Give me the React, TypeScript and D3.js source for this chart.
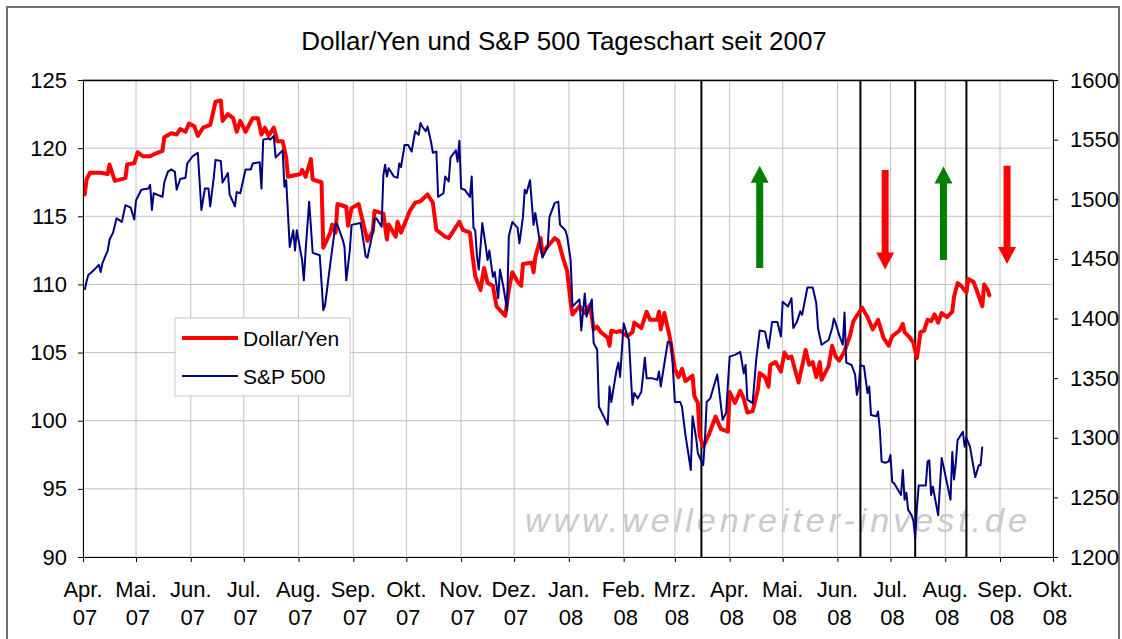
import * as d3 from 'd3';
import {useEffect, useRef} from "react";
import * as React from "react";

const chartTitle = "Dollar/Yen und S&P 500 Tageschart seit 2007";
const monthNames = ["Apr.", "Mai.", "Jun.", "Jul.", "Aug.", "Sep.", "Okt.", "Nov.", "Dez.", "Jan.", "Feb.", "Mrz.", "Apr.", "Mai.", "Jun.", "Jul.", "Aug.", "Sep.", "Okt."];
const yearNames = ["07", "07", "07", "07", "07", "07", "07", "07", "07", "08", "08", "08", "08", "08", "08", "08", "08", "08", "08"];
const yenTicks = [90, 95, 100, 105, 110, 115, 120, 125];
const spxTicks = [1200, 1250, 1300, 1350, 1400, 1450, 1500, 1550, 1600];
const eventDates = ["2008-03-16", "2008-06-14", "2008-07-15", "2008-08-13"];
// date, from, to (Dollar/Yen scale)
const trendArrows: [string, number, number][] = [
    ["2008-04-18", 111.2, 118.7],
    ["2008-06-28", 118.4, 111.1],
    ["2008-07-31", 111.8, 118.65],
    ["2008-09-05", 118.7, 111.5],
];

const yenSeries: [string, number][] = [
    ["2007-04-02",116.6],["2007-04-03",117.7],["2007-04-05",118.2],["2007-04-11",118.2],["2007-04-15",118.1],["2007-04-16",118.8],["2007-04-19",117.6],["2007-04-25",117.8],["2007-04-26",118.8],["2007-04-30",118.9],
    ["2007-05-02",119.7],["2007-05-05",119.4],["2007-05-09",119.4],["2007-05-12",119.6],["2007-05-16",119.8],["2007-05-17",120.8],["2007-05-21",121.1],["2007-05-24",121.0],["2007-05-26",121.4],["2007-05-29",121.2],["2007-05-31",121.8],
    ["2007-06-03",121.6],["2007-06-05",120.9],["2007-06-08",121.5],["2007-06-12",121.7],["2007-06-15",123.4],["2007-06-18",123.5],["2007-06-19",122.0],["2007-06-22",122.5],["2007-06-25",122.2],["2007-06-27",121.2],["2007-06-29",122.0],
    ["2007-07-02",121.2],["2007-07-06",122.2],["2007-07-09",122.2],["2007-07-11",121.0],["2007-07-13",121.5],["2007-07-15",120.9],["2007-07-18",121.5],["2007-07-20",120.5],["2007-07-23",120.5],["2007-07-25",119.3],["2007-07-26",117.9],
    ["2007-08-02",118.1],["2007-08-03",118.4],["2007-08-05",117.9],["2007-08-08",119.2],["2007-08-09",117.7],["2007-08-14",117.5],["2007-08-15",112.7],["2007-08-19",113.8],["2007-08-20",114.4],["2007-08-22",113.8],["2007-08-23",115.9],["2007-08-28",115.7],["2007-08-29",114.3],["2007-08-31",115.6],
    ["2007-09-04",115.9],["2007-09-06",114.8],["2007-09-09",113.2],["2007-09-12",113.9],["2007-09-13",115.4],["2007-09-18",115.2],["2007-09-20",113.3],["2007-09-21",114.4],["2007-09-25",113.5],["2007-09-26",114.6],["2007-09-28",113.8],
    ["2007-10-03",115.4],["2007-10-06",116.0],["2007-10-09",116.1],["2007-10-13",116.6],["2007-10-16",116.0],["2007-10-18",114.0],["2007-10-23",113.5],["2007-10-25",113.4],["2007-10-27",113.8],["2007-10-31",114.6],
    ["2007-11-02",114.0],["2007-11-06",113.8],["2007-11-07",112.6],["2007-11-09",110.6],["2007-11-12",109.6],["2007-11-14",111.2],["2007-11-16",110.1],["2007-11-19",109.9],["2007-11-21",108.4],["2007-11-26",107.7],["2007-11-28",109.6],["2007-11-30",110.9],
    ["2007-12-03",110.2],["2007-12-05",109.9],["2007-12-06",111.5],["2007-12-11",111.6],["2007-12-12",110.9],["2007-12-13",112.0],["2007-12-16",113.4],["2007-12-17",112.3],["2007-12-20",112.8],["2007-12-24",113.4],["2007-12-26",113.2],["2007-12-29",111.8],["2007-12-31",111.0],
    ["2008-01-02",108.7],["2008-01-03",107.8],["2008-01-07",108.4],["2008-01-10",107.9],["2008-01-13",108.5],["2008-01-15",106.7],["2008-01-17",106.9],["2008-01-19",106.5],["2008-01-23",106.1],["2008-01-24",105.5],["2008-01-25",106.6],["2008-01-28",106.5],["2008-01-30",106.6],
    ["2008-02-03",106.2],["2008-02-06",106.5],["2008-02-07",107.2],["2008-02-11",106.8],["2008-02-14",108.0],["2008-02-16",107.4],["2008-02-20",107.4],["2008-02-21",108.0],["2008-02-22",106.7],["2008-02-24",107.9],["2008-02-27",106.2],
    ["2008-03-01",103.8],["2008-03-03",103.2],["2008-03-05",103.8],["2008-03-07",102.9],["2008-03-11",103.3],["2008-03-12",101.8],["2008-03-14",101.3],["2008-03-15",98.9],["2008-03-17",98.1],["2008-03-20",98.9],["2008-03-24",100.3],["2008-03-27",99.4],["2008-03-31",99.2],
    ["2008-04-01",102.1],["2008-04-04",101.3],["2008-04-07",102.2],["2008-04-09",101.6],["2008-04-11",100.6],["2008-04-14",100.7],["2008-04-17",102.3],["2008-04-18",103.5],["2008-04-21",103.2],["2008-04-23",102.5],["2008-04-24",104.1],["2008-04-27",104.3],["2008-04-30",103.6],
    ["2008-05-02",105.0],["2008-05-04",104.6],["2008-05-06",104.7],["2008-05-10",102.8],["2008-05-14",105.2],["2008-05-16",104.1],["2008-05-18",104.3],["2008-05-20",103.2],["2008-05-22",104.3],["2008-05-23",103.0],["2008-05-27",104.0],["2008-05-29",105.5],["2008-05-31",104.7],
    ["2008-06-02",104.4],["2008-06-05",105.1],["2008-06-08",106.2],["2008-06-10",107.3],["2008-06-12",107.7],["2008-06-15",108.3],["2008-06-18",107.6],["2008-06-19",107.3],["2008-06-21",106.7],["2008-06-24",107.4],["2008-06-27",106.1],["2008-06-30",105.5],
    ["2008-07-02",106.2],["2008-07-06",106.6],["2008-07-08",107.1],["2008-07-09",106.5],["2008-07-12",106.1],["2008-07-14",105.7],["2008-07-16",104.6],["2008-07-18",106.5],["2008-07-20",106.6],["2008-07-22",107.4],["2008-07-24",107.3],["2008-07-26",107.8],["2008-07-28",107.2],["2008-07-30",107.9],
    ["2008-08-02",107.6],["2008-08-05",108.0],["2008-08-06",109.1],["2008-08-08",110.1],["2008-08-10",109.9],["2008-08-13",109.4],["2008-08-14",110.4],["2008-08-17",110.2],["2008-08-19",109.5],["2008-08-22",108.4],["2008-08-23",110.0],["2008-08-25",109.6],["2008-08-26",109.2],
];

const spxSeries: [string, number][] = [
    ["2007-04-02",1424],["2007-04-03",1431],["2007-04-04",1436.5],["2007-04-06",1439],["2007-04-10",1445],["2007-04-11",1439],["2007-04-12",1446.5],["2007-04-15",1457],["2007-04-16",1466],["2007-04-18",1472],["2007-04-20",1484],["2007-04-23",1481],["2007-04-25",1495],["2007-04-28",1493],["2007-04-30",1483],
    ["2007-05-01",1499],["2007-05-04",1508],["2007-05-08",1509],["2007-05-09",1512],["2007-05-10",1491],["2007-05-11",1505],["2007-05-16",1502],["2007-05-17",1514],["2007-05-19",1523],["2007-05-21",1525],["2007-05-23",1523],["2007-05-24",1508],["2007-05-26",1517],["2007-05-29",1518],["2007-05-30",1530],
    ["2007-06-02",1536],["2007-06-05",1539],["2007-06-07",1491],["2007-06-09",1509],["2007-06-11",1509],["2007-06-12",1494],["2007-06-14",1518],["2007-06-15",1533],["2007-06-18",1532],["2007-06-19",1514],["2007-06-22",1522],["2007-06-23",1504],["2007-06-26",1494],["2007-06-27",1506],["2007-06-29",1505],
    ["2007-07-02",1525],["2007-07-05",1525],["2007-07-06",1530],["2007-07-10",1531],["2007-07-11",1509],["2007-07-12",1550],["2007-07-15",1551],["2007-07-16",1550],["2007-07-18",1553],["2007-07-19",1535],["2007-07-23",1541],["2007-07-24",1510.5],["2007-07-25",1516],["2007-07-27",1460],["2007-07-29",1474],["2007-07-30",1457],["2007-07-31",1474],
    ["2007-08-03",1449],["2007-08-04",1432],["2007-08-05",1457],["2007-08-07",1498],["2007-08-09",1455],["2007-08-13",1453],["2007-08-15",1407],["2007-08-16",1411],["2007-08-19",1446.5],["2007-08-22",1480],["2007-08-23",1478.5],["2007-08-26",1466],["2007-08-27",1460],["2007-08-28",1432],["2007-08-30",1457],["2007-08-31",1478.5],
    ["2007-09-05",1480],["2007-09-06",1472],["2007-09-08",1452],["2007-09-09",1451],["2007-09-12",1472],["2007-09-13",1483.5],["2007-09-14",1484],["2007-09-17",1477],["2007-09-18",1520],["2007-09-19",1529],["2007-09-20",1519],["2007-09-21",1526],["2007-09-24",1519],["2007-09-26",1518],["2007-09-27",1530],["2007-09-28",1527],["2007-09-30",1545.5],
    ["2007-10-02",1545.5],["2007-10-04",1540],["2007-10-06",1557],["2007-10-08",1554],["2007-10-09",1564],["2007-10-10",1561],["2007-10-12",1557],["2007-10-13",1561],["2007-10-15",1548],["2007-10-16",1539],["2007-10-18",1540],["2007-10-19",1502],["2007-10-22",1505],["2007-10-23",1519],["2007-10-25",1515],["2007-10-26",1535],["2007-10-29",1541],["2007-10-30",1531.5],["2007-10-31",1549],
    ["2007-11-01",1509],["2007-11-03",1508],["2007-11-06",1502],["2007-11-07",1519],["2007-11-08",1476],["2007-11-09",1474],["2007-11-10",1452],["2007-11-11",1441],["2007-11-13",1480],["2007-11-15",1460],["2007-11-16",1449],["2007-11-17",1457],["2007-11-19",1435],["2007-11-20",1439],["2007-11-22",1417],["2007-11-23",1441],["2007-11-25",1426],["2007-11-27",1407],["2007-11-28",1469],["2007-11-30",1481],
    ["2007-12-03",1476],["2007-12-04",1463],["2007-12-06",1485],["2007-12-07",1508],["2007-12-08",1505],["2007-12-10",1516],["2007-12-12",1478.5],["2007-12-13",1488.5],["2007-12-16",1460],["2007-12-17",1451],["2007-12-20",1460],["2007-12-21",1485],["2007-12-24",1497],["2007-12-26",1498],["2007-12-27",1478.5],["2007-12-30",1474],["2007-12-31",1469],
    ["2008-01-02",1449],["2008-01-03",1410],["2008-01-07",1416],["2008-01-08",1390],["2008-01-10",1421],["2008-01-11",1401.5],["2008-01-14",1416],["2008-01-15",1379.5],["2008-01-17",1374],["2008-01-18",1326],["2008-01-23",1311],["2008-01-24",1343],["2008-01-25",1330],["2008-01-28",1357],["2008-01-29",1363],["2008-01-30",1351],
    ["2008-02-01",1396],["2008-02-03",1386],["2008-02-04",1382],["2008-02-06",1327.5],["2008-02-07",1337.5],["2008-02-09",1333],["2008-02-11",1338.5],["2008-02-13",1367],["2008-02-14",1350],["2008-02-17",1350],["2008-02-20",1348.5],["2008-02-21",1355.5],["2008-02-22",1343],["2008-02-26",1380.5],["2008-02-28",1379.5],
    ["2008-03-01",1330],["2008-03-04",1330],["2008-03-05",1326],["2008-03-07",1302],["2008-03-09",1283],["2008-03-10",1273],["2008-03-11",1318],["2008-03-13",1300],["2008-03-14",1287],["2008-03-17",1277],["2008-03-18",1298],["2008-03-19",1330],["2008-03-21",1333],["2008-03-25",1353],["2008-03-28",1315],["2008-03-30",1321],
    ["2008-04-01",1368],["2008-04-04",1369.5],["2008-04-07",1372],["2008-04-09",1354],["2008-04-10",1361],["2008-04-11",1332],["2008-04-14",1329],["2008-04-16",1365],["2008-04-18",1390],["2008-04-21",1389],["2008-04-23",1375],["2008-04-25",1397],["2008-04-28",1397],["2008-04-30",1385],
    ["2008-05-01",1414],["2008-05-04",1410],["2008-05-06",1417],["2008-05-07",1392],["2008-05-09",1397],["2008-05-11",1406],["2008-05-12",1403],["2008-05-15",1426],["2008-05-18",1426],["2008-05-20",1413],["2008-05-21",1392],["2008-05-23",1378],["2008-05-27",1382],["2008-05-29",1392],["2008-05-30",1400],["2008-05-31",1396],
    ["2008-06-02",1386],["2008-06-04",1378],["2008-06-05",1405],["2008-06-06",1363],["2008-06-09",1361],["2008-06-11",1353],["2008-06-12",1336],["2008-06-13",1343],["2008-06-14",1361],["2008-06-16",1360],["2008-06-18",1337.5],["2008-06-19",1343],["2008-06-20",1319],["2008-06-23",1318],["2008-06-24",1322],["2008-06-25",1306.5],["2008-06-26",1280],["2008-06-28",1279],["2008-06-30",1280],
    ["2008-07-01",1285.5],["2008-07-02",1263],["2008-07-03",1262],["2008-07-07",1252],["2008-07-08",1273],["2008-07-09",1248],["2008-07-10",1254],["2008-07-11",1239.5],["2008-07-13",1235],["2008-07-14",1230],["2008-07-15",1216],["2008-07-16",1242],["2008-07-17",1260],["2008-07-21",1260],["2008-07-22",1280],["2008-07-23",1281],["2008-07-24",1252],["2008-07-25",1259],["2008-07-28",1235],["2008-07-30",1283],
    ["2008-08-02",1262],["2008-08-04",1248],["2008-08-05",1288],["2008-08-06",1265],["2008-08-07",1279],["2008-08-08",1298],["2008-08-11",1305],["2008-08-12",1292.5],["2008-08-13",1300],["2008-08-15",1292.5],["2008-08-18",1267],["2008-08-20",1277],["2008-08-21",1277],["2008-08-22",1292.5],
];

const FONT = "'Liberation Sans', Arial, sans-serif";

export default function App() {
    const svgRef = useRef<SVGSVGElement | null>(null);

    useEffect(() => {
        const W = 1122, H = 639;
        const margin = {top: 80, right: 69, bottom: 82, left: 83};
        const innerW = W - margin.left - margin.right;
        const innerH = H - margin.top - margin.bottom;
        const parse = d3.timeParse("%Y-%m-%d");

        const svg = d3.select(svgRef.current)
            .attr("width", W)
            .attr("height", H)
            .html("");

        svg.append("rect").attr("width", W).attr("height", H).attr("fill", "#fff");
        // outer chart frame
        svg.append("rect")
            .attr("x", 7).attr("y", 7).attr("width", 1112).attr("height", 700)
            .attr("fill", "none").attr("stroke", "#707070").attr("stroke-width", 2);

        svg.append("text")
            .attr("x", 564).attr("y", 50)
            .attr("text-anchor", "middle")
            .attr("font-family", FONT).attr("font-size", 26)
            .text(chartTitle);

        const g = svg.append("g").attr("transform", `translate(${margin.left},${margin.top})`);

        const monthDates = d3.timeMonth.range(new Date(2007, 3, 1), new Date(2008, 9, 2));
        const x = d3.scaleTime()
            .domain([new Date(2007, 3, 1), new Date(2008, 9, 1)])
            .range([0, innerW]);
        const yL = d3.scaleLinear().domain([90, 125]).range([innerH, 0]);
        const yR = d3.scaleLinear().domain([1200, 1600]).range([innerH, 0]);

        // grid
        g.selectAll(".hgrid").data(yenTicks).enter().append("line")
            .attr("x1", 0).attr("x2", innerW)
            .attr("y1", d => yL(d)).attr("y2", d => yL(d))
            .attr("stroke", "#c0c0c0").attr("stroke-width", 1);
        g.selectAll(".vgrid").data(monthDates).enter().append("line")
            .attr("x1", d => x(d)).attr("x2", d => x(d))
            .attr("y1", 0).attr("y2", innerH)
            .attr("stroke", "#c0c0c0").attr("stroke-width", 1);

        // watermark
        g.append("text")
            .attr("x", 525 - margin.left).attr("y", 532 - margin.top)
            .attr("font-family", FONT).attr("font-size", 34).attr("font-style", "italic")
            .attr("letter-spacing", 4)
            .attr("fill", "#cacaca")
            .text("www.wellenreiter-invest.de");

        // event lines
        g.selectAll(".event").data(eventDates).enter().append("line")
            .attr("x1", d => x(parse(d)!)).attr("x2", d => x(parse(d)!))
            .attr("y1", 0).attr("y2", innerH)
            .attr("stroke", "#000").attr("stroke-width", 2);

        // top frame line
        g.append("line").attr("x1", 0).attr("x2", innerW).attr("y1", 0.5).attr("y2", 0.5)
            .attr("stroke", "#000").attr("stroke-width", 1.5);

        const yenLine = d3.line<[string, number]>()
            .x(d => x(parse(d[0])!))
            .y(d => yL(d[1]));
        const spxLine = d3.line<[string, number]>()
            .x(d => x(parse(d[0])!))
            .y(d => yR(d[1]));

        g.append("path").datum(yenSeries)
            .attr("d", yenLine)
            .attr("fill", "none").attr("stroke", "#ff0000").attr("stroke-width", 4)
            .attr("stroke-linejoin", "round").attr("stroke-linecap", "round");
        g.append("path").datum(spxSeries)
            .attr("d", spxLine)
            .attr("fill", "none").attr("stroke", "#000080").attr("stroke-width", 2)
            .attr("stroke-linejoin", "round");

        // arrows
        trendArrows.forEach(([date, from, to]) => {
            const cx = x(parse(date)!);
            const y0 = yL(from), y1 = yL(to);
            const dir = y1 < y0 ? -1 : 1;
            const headLen = 17, headHalf = 9, shaftHalf = 3.5;
            const yb = y1 - dir * headLen;
            const p = d3.path();
            p.moveTo(cx - shaftHalf, y0);
            p.lineTo(cx - shaftHalf, yb);
            p.lineTo(cx - headHalf, yb);
            p.lineTo(cx, y1);
            p.lineTo(cx + headHalf, yb);
            p.lineTo(cx + shaftHalf, yb);
            p.lineTo(cx + shaftHalf, y0);
            p.closePath();
            g.append("path").attr("d", p.toString())
                .attr("fill", dir < 0 ? "#008000" : "#ff0000");
        });

        // axes
        const left = g.append("g")
            .call(d3.axisLeft(yL).tickValues(yenTicks).tickSize(5).tickSizeOuter(0).tickPadding(11).tickFormat(d3.format("d")));
        left.attr("font-family", FONT).attr("font-size", 22);
        left.selectAll("text").attr("fill", "#000");

        const right = g.append("g")
            .attr("transform", `translate(${innerW},0)`)
            .call(d3.axisRight(yR).tickValues(spxTicks).tickSize(5).tickSizeOuter(0).tickPadding(12).tickFormat(d3.format("d")));
        right.attr("font-family", FONT).attr("font-size", 22);
        right.selectAll("text").attr("fill", "#000");

        g.append("g")
            .attr("transform", `translate(0,${innerH})`)
            .call(d3.axisBottom(x).tickValues(monthDates).tickSize(5).tickSizeOuter(0).tickFormat(() => ""));

        const labels = g.append("g").attr("font-family", FONT).attr("font-size", 22).attr("text-anchor", "middle");
        labels.selectAll(".mon").data(monthDates).enter().append("text")
            .attr("x", d => x(d)).attr("y", innerH + 40)
            .text((_, i) => monthNames[i]);
        labels.selectAll(".yr").data(monthDates).enter().append("text")
            .attr("x", d => x(d) + 2).attr("y", innerH + 68)
            .text((_, i) => yearNames[i]);

        // legend
        const lg = svg.append("g").attr("transform", "translate(175,318)");
        lg.append("rect").attr("width", 175).attr("height", 78)
            .attr("fill", "#fff").attr("stroke", "#c8c8c8").attr("stroke-width", 1);
        lg.append("line").attr("x1", 7).attr("x2", 63).attr("y1", 20).attr("y2", 20)
            .attr("stroke", "#ff0000").attr("stroke-width", 4);
        lg.append("line").attr("x1", 7).attr("x2", 63).attr("y1", 58).attr("y2", 58)
            .attr("stroke", "#000080").attr("stroke-width", 2);
        lg.append("text").attr("x", 68).attr("y", 28)
            .attr("font-family", FONT).attr("font-size", 21).text("Dollar/Yen");
        lg.append("text").attr("x", 68).attr("y", 66)
            .attr("font-family", FONT).attr("font-size", 21).text("S&P 500");
    }, []);

    return <svg ref={svgRef} style={{position: "absolute", left: 0, top: 0}}></svg>;
}
